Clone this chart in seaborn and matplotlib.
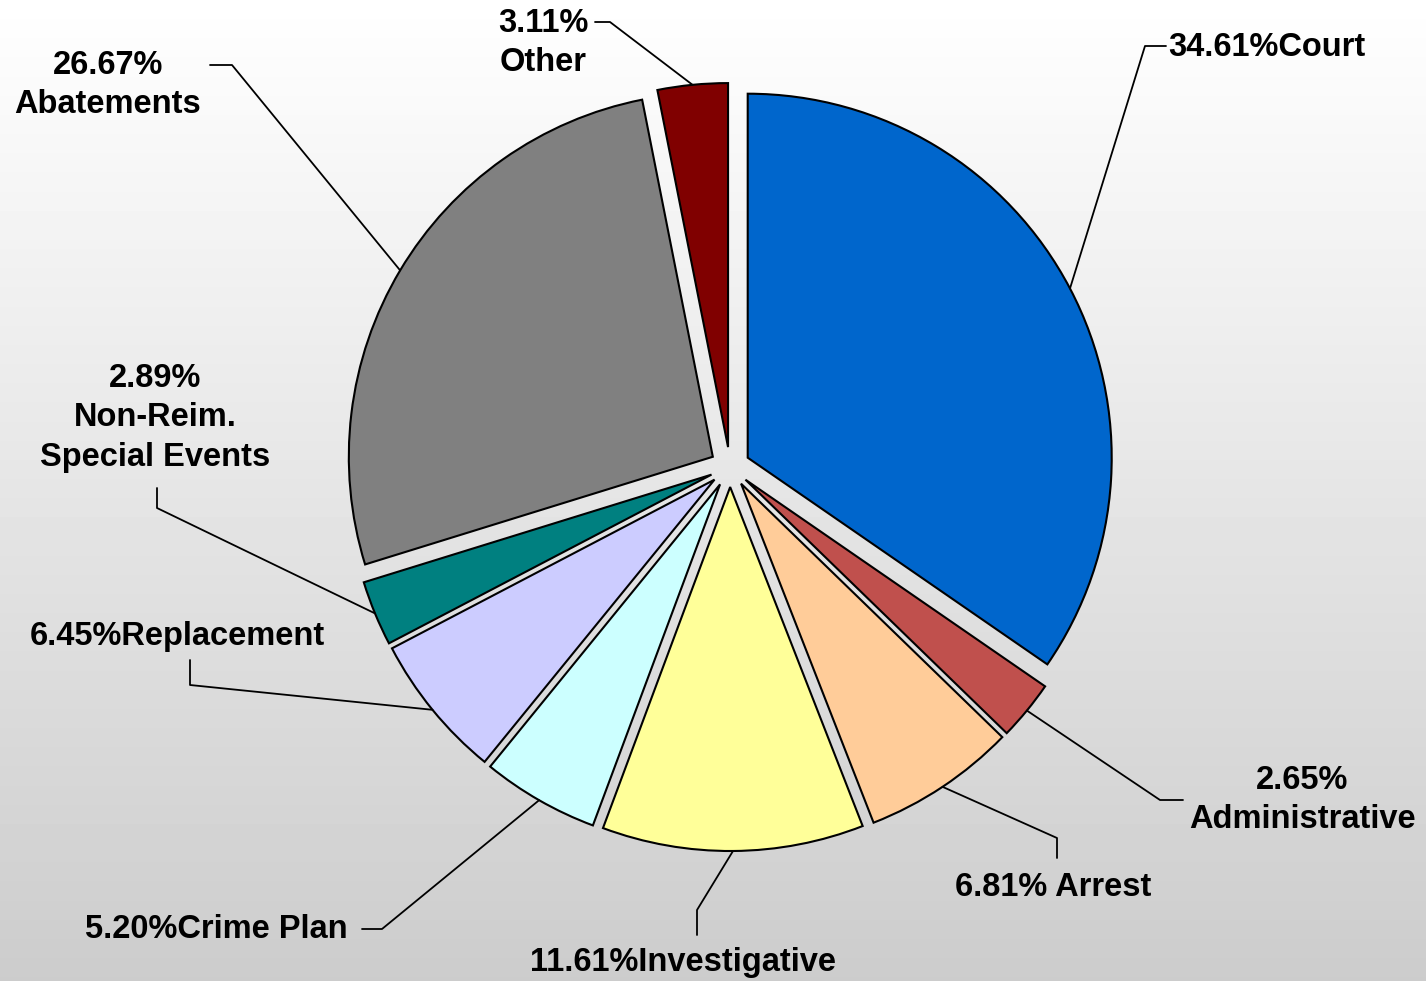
import matplotlib
matplotlib.use('Agg')
import matplotlib.pyplot as plt
import numpy as np
import seaborn as sns

# slices, clockwise from 12 o'clock
categories = ['Court', 'Administrative', 'Arrest', 'Investigative', 'Crime Plan',
              'Replacement', 'Non-Reim.\nSpecial Events', 'Abatements', 'Other']
shares = [34.61, 2.65, 6.81, 11.61, 5.20, 6.45, 2.89, 26.67, 3.11]
colors = ['#0066CC', '#C0504D', '#FFCC99', '#FFFF99', '#CCFFFF',
          '#CCCCFF', '#008080', '#808080', '#800000']

sns.set_style('white')
plt.rcParams['font.family'] = ['Liberation Sans', 'DejaVu Sans']
plt.rcParams['text.color'] = 'black'

W, H = 1426, 981
fig = plt.figure(figsize=(W / 100, H / 100), dpi=100)
ax = fig.add_axes([0, 0, 1, 1])

# grey-to-white backdrop
grad = np.linspace(0.80, 1.0, 256).reshape(-1, 1)
ax.imshow(grad, extent=[0, W, 0, H], origin='lower', cmap='gray',
          vmin=0, vmax=1, aspect='auto', zorder=0)

# explode is in data units here (1 unit = 1 px)
CX, CY, R, EXP = 730, H - 467, 364, 20
ax.pie(shares, colors=colors, startangle=90, counterclock=False,
       radius=R, center=(CX, CY), explode=[EXP] * len(shares), frame=True,
       wedgeprops=dict(edgecolor='black', linewidth=1.5, zorder=2))

# label layout: text position (px from top-left), alignment, separator, elbow points
layout = [
    ((1168, 47), 'left', '', [(1145, 46), (1166, 46)]),
    ((1302, 800), 'center', '\n', [(1160, 800), (1183, 800)]),
    ((955, 887), 'left', ' ', [(1057, 838), (1057, 858)]),
    ((530, 962), 'left', '', [(697, 910), (697, 935)]),
    ((85, 929), 'left', '', [(382, 929), (362, 929)]),
    ((30, 636), 'left', '', [(190, 685), (190, 660)]),
    ((155, 418), 'center', '\n', [(157, 508), (157, 488)]),
    ((108, 85), 'center', '\n', [(232, 65), (210, 65)]),
    ((543, 43), 'center', '\n', [(610, 22), (595, 22)]),
]

mids = (np.cumsum(shares) - np.array(shares) / 2) / 100 * 2 * np.pi
for cat, val, mid, (tpos, ha, sep, elbow) in zip(categories, shares, mids, layout):
    ax_x = CX + (R + EXP) * np.sin(mid)
    ax_y = CY + (R + EXP) * np.cos(mid)
    xs = [ax_x] + [p[0] for p in elbow]
    ys = [ax_y] + [H - p[1] for p in elbow]
    ax.plot(xs, ys, color='black', lw=1.3, zorder=3)
    ax.text(tpos[0], H - tpos[1], f'{val:.2f}%{sep}{cat}', ha=ha, va='center',
            multialignment='center', fontsize=23.5, fontweight='bold',
            linespacing=1.36, color='black', zorder=4)

ax.set_xlim(0, W)
ax.set_ylim(0, H)
ax.set_aspect('auto')
ax.axis('off')

fig.savefig('out.png', dpi=100)
